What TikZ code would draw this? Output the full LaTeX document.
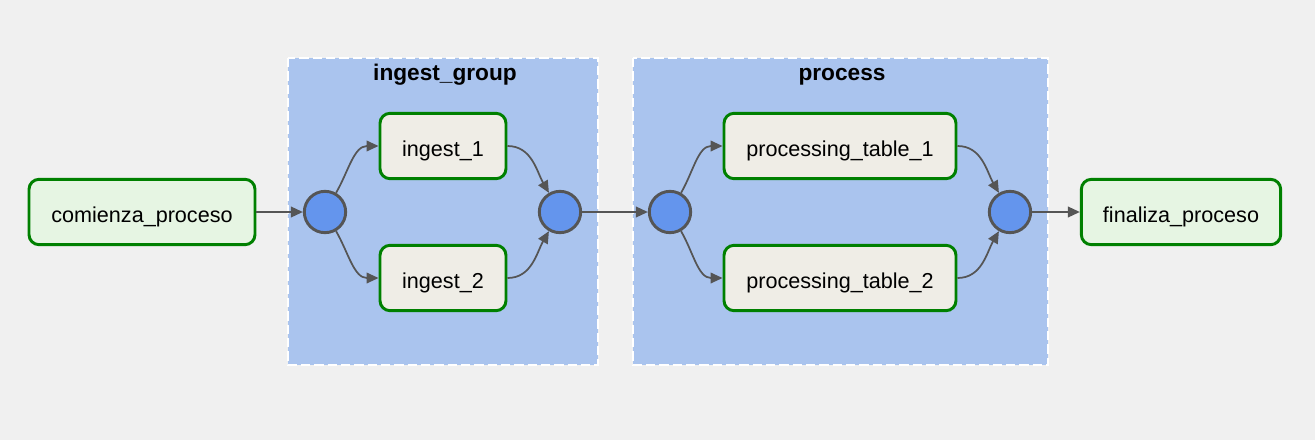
\documentclass[tikz,border=0pt]{standalone}
\usepackage{fontspec}
\setmainfont{Liberation Sans}
\usetikzlibrary{arrows.meta}
\definecolor{bg}{HTML}{F0F0F0}
\definecolor{clusterfill}{HTML}{AAC4EE}
\definecolor{taskgreen}{HTML}{008000}
\definecolor{lightgreen}{HTML}{E6F5E3}
\definecolor{taskfill}{HTML}{EFEDE6}
\definecolor{joinfill}{HTML}{6495ED}
\definecolor{edgegray}{HTML}{555555}
\tikzset{
  cluster/.style={fill=clusterfill, draw=white, dash pattern=on 7pt off 3pt, line width=1.4pt},
  task/.style={draw=taskgreen, line width=2.2pt, rounded corners=7.5pt, fill=taskfill, minimum height=49pt, font=\fontsize{16.2}{19}\selectfont, inner sep=0pt, text height=16pt, text depth=0pt},
  endtask/.style={task, fill=lightgreen},
  joinnode/.style={circle, draw=edgegray, line width=2.2pt, fill=joinfill, minimum size=31pt, inner sep=0pt},
  edge/.style={draw=edgegray, line width=1.3pt, -{Triangle[length=9pt,width=8pt]}},
  title/.style={font=\bfseries\fontsize{17}{20}\selectfont, anchor=base}
}
\begin{document}
\begin{tikzpicture}[x=0.75pt,y=-0.75pt]
\fill[bg] (0,0) rectangle (1315,440);
\useasboundingbox (0,0) rectangle (1315,440);
% clusters
\path[cluster] (288,58) rectangle (598,365);
\path[cluster] (633,58) rectangle (1048,365);
\node[title] (tg1) at (445,80) {ingest\_group};
\node[title] (tg2) at (842,80) {process};
% nodes
\node[endtask, minimum width=169.5pt] (start) at (142,212) {comienza\_proceso};
\node[joinnode] (j1) at (325,212) {};
\node[task, minimum width=94.5pt] (i1) at (443,146) {ingest\_1};
\node[task, minimum width=94.5pt] (i2) at (443,278) {ingest\_2};
\node[joinnode] (j2) at (560,212) {};
\node[joinnode] (j3) at (670,212) {};
\node[task, minimum width=174pt] (p1) at (840,146) {processing\_table\_1};
\node[task, minimum width=174pt] (p2) at (840,278) {processing\_table\_2};
\node[joinnode] (j4) at (1010,212) {};
\node[endtask, minimum width=149.5pt] (fin) at (1181,212) {finaliza\_proceso};
% edges
\draw[edge] (start) -- (j1);
\draw[edge] (j1.60) to[out=60,in=180] (i1.west);
\draw[edge] (j1.-60) to[out=-60,in=180] (i2.west);
\draw[edge] (i1.east) to[out=0,in=120] (j2.120);
\draw[edge] (i2.east) to[out=0,in=-120] (j2.-120);
\draw[edge] (j2) -- (j3);
\draw[edge] (j3.60) to[out=60,in=180] (p1.west);
\draw[edge] (j3.-60) to[out=-60,in=180] (p2.west);
\draw[edge] (p1.east) to[out=0,in=120] (j4.120);
\draw[edge] (p2.east) to[out=0,in=-120] (j4.-120);
\draw[edge] (j4) -- (fin);
\end{tikzpicture}
\end{document}
